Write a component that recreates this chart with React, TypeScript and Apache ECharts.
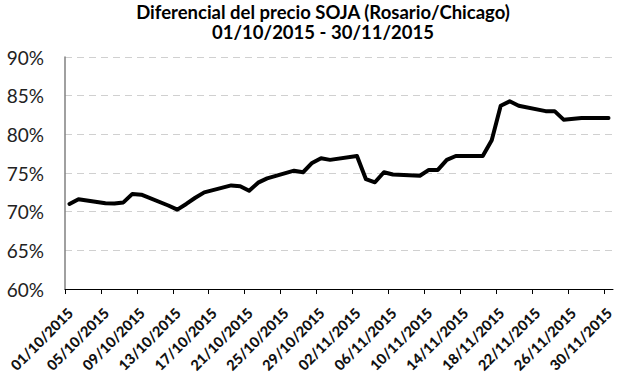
import React, { useEffect, useRef } from "react";
import * as echarts from "echarts";

const titleLines = ["Diferencial del precio SOJA (Rosario/Chicago)", "01/10/2015 - 30/11/2015"];

const dates = [
  "01/10/2015", "02/10/2015", "05/10/2015", "06/10/2015", "07/10/2015", "08/10/2015", "09/10/2015",
  "12/10/2015", "13/10/2015", "14/10/2015", "15/10/2015", "16/10/2015",
  "19/10/2015", "20/10/2015", "21/10/2015", "22/10/2015", "23/10/2015",
  "26/10/2015", "27/10/2015", "28/10/2015", "29/10/2015", "30/10/2015",
  "02/11/2015", "03/11/2015", "04/11/2015", "05/11/2015", "06/11/2015",
  "09/11/2015", "10/11/2015", "11/11/2015", "12/11/2015", "13/11/2015",
  "16/11/2015", "17/11/2015", "18/11/2015", "19/11/2015", "20/11/2015",
  "23/11/2015", "24/11/2015", "25/11/2015", "27/11/2015", "30/11/2015",
];

const values = [
  71.0, 71.6, 71.1, 71.05, 71.2, 72.3, 72.2,
  70.8, 70.27, 71.0, 71.8, 72.5,
  73.4, 73.3, 72.7, 73.75, 74.3,
  75.3, 75.1, 76.3, 76.9, 76.7,
  77.2, 74.2, 73.8, 75.1, 74.8,
  74.65, 75.4, 75.4, 76.7, 77.2,
  77.2, 79.25, 83.7, 84.27, 83.7,
  83.0, 83.0, 81.9, 82.1, 82.1,
];

const xTickLabels = [
  "01/10/2015", "05/10/2015", "09/10/2015", "13/10/2015", "17/10/2015", "21/10/2015",
  "25/10/2015", "29/10/2015", "02/11/2015", "06/11/2015", "10/11/2015", "14/11/2015",
  "18/11/2015", "22/11/2015", "26/11/2015", "30/11/2015",
];

const yTicks = [60, 65, 70, 75, 80, 85, 90];

const toDay = (s: string) => {
  const [d, m, y] = s.split("/").map(Number);
  const t = Date.UTC(y, m - 1, d);
  const t0 = Date.UTC(2015, 9, 1);
  return Math.round((t - t0) / 86400000);
};

const titleStyle = {
  fontFamily: "Lato",
  fontWeight: "bold",
  fontSize: 18.5,
  lineHeight: 19,
  color: "#000",
};

export default function App() {
  const ref = useRef<HTMLDivElement>(null);
  useEffect(() => {
    if (!ref.current) return;
    const chart = echarts.init(ref.current, null, { renderer: "svg" });
    const tickPos = xTickLabels.map(toDay);
    const labelMap: Record<number, string> = {};
    xTickLabels.forEach((l) => (labelMap[toDay(l)] = l));
    const lastDay = toDay(dates[dates.length - 1]);
    const data = dates.map((d, i) => [toDay(d) + 0.5, values[i]]);
    chart.setOption({
      animation: false,
      backgroundColor: "#ffffff",
      title: [
        { text: titleLines[0], left: 323, textAlign: "center", top: 2, padding: 0, textStyle: titleStyle },
        { text: titleLines[1], left: 323, textAlign: "center", top: 22, padding: 0, textStyle: titleStyle },
      ],
      grid: { left: 65, right: 7, top: 57, bottom: 83, containLabel: false },
      xAxis: {
        type: "value",
        min: 0,
        max: lastDay + 1,
        splitLine: { show: false },
        axisLine: { show: true, lineStyle: { color: "#000", width: 1 } },
        axisTick: { show: true, length: 5, lineStyle: { color: "#000" }, customValues: tickPos },
        axisLabel: {
          customValues: tickPos,
          rotate: 45,
          margin: 16,
          align: "right",
          verticalAlign: "top",
          fontFamily: "Lato",
          fontWeight: 900,
          fontSize: 14.5,
          color: "#111",
          formatter: (v: number) => labelMap[Math.round(v)] || "",
        },
      },
      yAxis: {
        type: "value",
        min: yTicks[0],
        max: yTicks[yTicks.length - 1],
        interval: 5,
        axisLine: { show: true, lineStyle: { color: "#808080", width: 1.5 } },
        axisTick: { show: false },
        splitLine: { show: true, lineStyle: { color: "#d0d0d0", type: [7, 5], width: 1 } },
        axisLabel: {
          formatter: "{value}%",
          margin: 21,
          fontFamily: "Lato",
          fontSize: 19,
          color: "#222",
        },
      },
      series: [
        {
          type: "line",
          data,
          symbol: "none",
          lineStyle: { color: "#000", width: 4, join: "round", cap: "round" },
        },
      ],
    });
    return () => chart.dispose();
  }, []);
  return <div ref={ref} style={{ width: 620, height: 375, position: "absolute", left: 0, top: 0 }} />;
}
